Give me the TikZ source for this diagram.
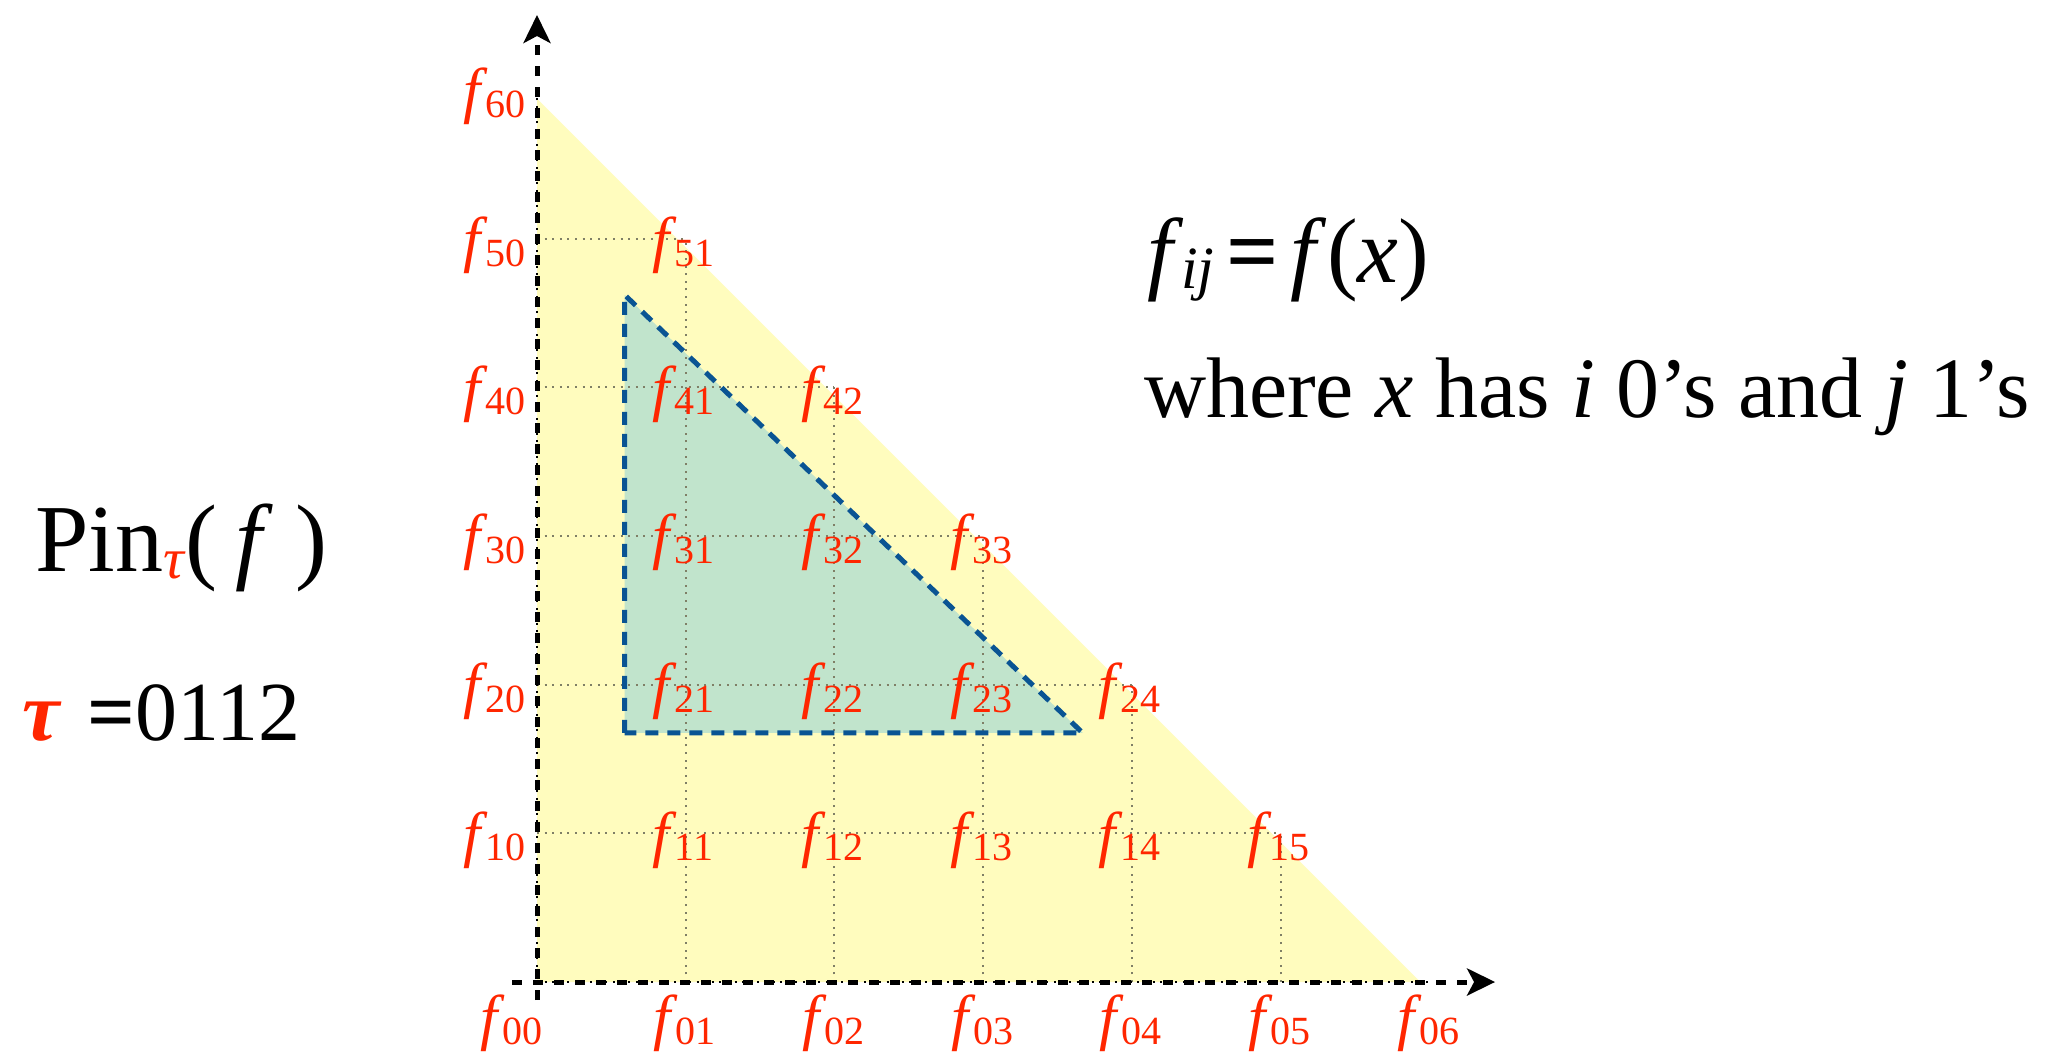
\documentclass[tikz,border=0pt]{standalone}
\usepackage{fontspec}
\setmainfont{Liberation Serif}
\usetikzlibrary{arrows.meta}
\definecolor{lblred}{HTML}{FF2600}
\definecolor{yellowfill}{HTML}{FFFCBE}
\definecolor{greenfill}{HTML}{C1E4CC}
\definecolor{bluedash}{HTML}{0A5493}
\definecolor{griddot}{HTML}{7F7F66}
\newcommand\flab[1]{\textit{f}\kern-1.2pt\raisebox{-2.75pt}{\fontsize{20}{20}\selectfont #1}}
\begin{document}
\begin{tikzpicture}[x=0.5pt,y=-0.5pt,
  lbl/.style={anchor=base west,inner sep=0pt,outer sep=0pt,text=lblred,font=\fontsize{31}{31}\selectfont},
  txt/.style={anchor=base west,inner sep=0pt,outer sep=0pt,text=black},
  gridline/.style={draw=griddot,line width=1pt,dash pattern=on 1pt off 2.8pt},
  axisdots/.style={draw=black,line width=1pt,dash pattern=on 1pt off 2.8pt},
  axisline/.style={draw=black,line width=2.5pt,dash pattern=on 5pt off 5.5pt,-{Stealth[length=14pt,width=13.5pt,inset=3.5pt]}},
  bluetri/.style={draw=bluedash,line width=2.5pt,dash pattern=on 6.5pt off 4.5pt}]
\useasboundingbox (0,0) rectangle (2055,1054);
\fill[white] (0,0) rectangle (2055,1054);
\begin{scope}[shift={(537,982)},x=74.35pt,y=74.35pt]
  \fill[yellowfill] (0,0) -- (0,5.94) -- (5.94,0) -- cycle;
  \fill[greenfill] (0.59,1.675) -- (0.59,4.62) -- (3.67,1.675) -- cycle;
  \foreach \i in {1,...,5}{
    \pgfmathtruncatemacro\e{6-\i}
    \draw[gridline] (0,\i) -- (\e,\i);
    \draw[gridline] (\i,0) -- (\i,\e);
  }
  \draw[axisdots] (0,0) -- (0,6);
  \draw[axisdots] (0,0) -- (6,0);
  \coordinate (ta) at (0.59,1.675);
  \coordinate (tb) at (0.59,4.62);
  \coordinate (tc) at (3.67,1.675);
  \draw[bluetri] (ta) -- (tb) -- (tc) -- cycle;
  \coordinate (ybot) at (0,-0.121);
  \coordinate (ytop) at (0,6.503);
  \coordinate (xleft) at (-0.168,0);
  \coordinate (xright) at (6.443,0);
  \draw[axisline] (ybot) -- (ytop);
  \draw[axisline] (xleft) -- (xright);
  % interior labels
  \foreach \i in {1,...,5}{
    \foreach \j in {1,...,5}{
      \ifnum\numexpr\i+\j\relax<7
        \node[lbl] (f\i\j) at ({\j-0.222},{\i-0.148}) {\flab{\i\j}};
      \fi
    }
  }
  % left labels
  \foreach \i in {1,...,6}{
    \node[lbl] (f\i0) at (-0.491,{\i-0.148}) {\flab{\i0}};
  }
  % bottom labels
  \node[lbl] (f00) at (-0.377,-0.38) {\flab{00}};
  \foreach \j in {1,...,6}{
    \node[lbl] (f0\j) at ({\j-0.215},-0.38) {\flab{0\j}};
  }
\end{scope}
\node[txt,font=\fontsize{46}{46}\selectfont] (fdef) at (1147,282)
  {\textit{f}\kern-1pt\raisebox{-3pt}{\fontsize{30}{30}\selectfont\textit{ij}}\kern6pt\textbf{=}\kern6pt\textit{f}(\textit{x})};
\node[txt,font=\fontsize{43}{43}\selectfont] (where) at (1144,417)
  {where \textit{x} has \textit{i} 0’s and \textit{j} 1’s};
\node[txt,font=\fontsize{48}{48}\selectfont] (pin) at (35,571)
  {Pin\raisebox{-3.5pt}{\fontsize{29}{29}\selectfont\color{lblred}\textit{τ}}(\kern9pt\textit{f}\kern11pt)};
\node[txt,font=\fontsize{42}{42}\selectfont] (tau) at (22,740)
  {{\color{lblred}\bfseries\itshape τ}\kern14pt\textbf{=}0112};
\end{tikzpicture}
\end{document}
